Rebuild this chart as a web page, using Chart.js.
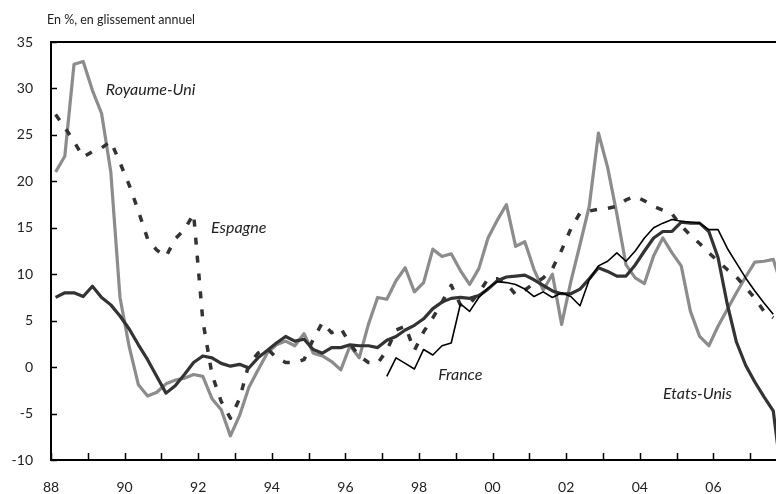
<!DOCTYPE html>
<html>
<head>
<meta charset="utf-8">
<script src="https://cdn.jsdelivr.net/npm/chart.js@4.4.1/dist/chart.umd.min.js"></script>
<style>
  html, body { margin: 0; padding: 0; background: #fff; }
  #wrap { width: 776px; height: 494px; overflow: hidden; }
</style>
</head>
<body>
<div id="wrap"><canvas id="chart" width="776" height="494"></canvas></div>
<script>
// quarterly data, 1988T1 .. 2007T4, in % (glissement annuel)
const firstYear = 1988;
const yearTicks = [1988, 1989, 1990, 1991, 1992, 1993, 1994, 1995, 1996, 1997,
                   1998, 1999, 2000, 2001, 2002, 2003, 2004, 2005, 2006, 2007];
const yTicks = [-10, -5, 0, 5, 10, 15, 20, 25, 30, 35];

const royaumeUni = [
  21.0, 22.7, 32.6, 32.9, 29.8, 27.3, 21.0, 7.5, 2.2, -1.9,
  -3.1, -2.7, -1.8, -1.4, -1.2, -0.8, -1.0, -3.4, -4.6, -7.4,
  -5.2, -2.2, -0.3, 1.5, 2.4, 2.8, 2.3, 3.6, 1.5, 1.2,
  0.6, -0.3, 2.3, 1.0, 4.6, 7.5, 7.3, 9.3, 10.7, 8.1,
  9.1, 12.7, 11.9, 12.2, 10.4, 8.9, 10.6, 13.9, 15.8, 17.5,
  13.0, 13.5, 10.5, 8.3, 10.0, 4.6, 9.2, 13.2, 17.3, 25.2,
  21.5, 16.5, 11.0, 9.6, 9.0, 12.0, 13.9, 12.3, 10.9, 6.0,
  3.3, 2.3, 4.4, 6.2, 8.0, 9.7, 11.3, 11.4, 11.6, 8.5
];
const espagne = [
  27.2, 25.8, 24.3, 22.6, 23.2, 23.6, 24.3, 22.0, 19.6, 16.8,
  13.8, 12.6, 11.9, 13.8, 14.8, 16.5, 5.0, -0.8, -3.7, -5.5,
  -3.4, 0.3, 1.5, 2.0, 1.0, 0.5, 0.5, 0.8, 3.0, 4.8,
  3.7, 4.2, 2.5, 1.2, 0.5, 0.4, 1.8, 4.0, 4.4, 1.8,
  3.8, 5.3, 7.0, 8.8, 6.7, 6.8, 8.0, 9.5, 9.5, 9.0,
  7.8, 8.3, 9.0, 9.6, 10.6, 12.6, 14.9, 16.6, 16.8, 17.0,
  17.1, 17.3, 18.0, 18.4, 17.9, 17.3, 16.9, 16.5, 15.2, 14.2,
  13.3, 12.3, 11.4, 10.5, 9.7, 8.6, 7.4, 6.0, 5.3, null
];
const etatsUnis = [
  7.5, 8.0, 8.0, 7.6, 8.7, 7.5, 6.7, 5.5, 4.1, 2.4,
  0.8, -1.0, -2.8, -2.0, -0.8, 0.5, 1.2, 1.0, 0.4, 0.1,
  0.3, -0.1, 1.0, 1.8, 2.6, 3.3, 2.8, 3.0, 1.9, 1.5,
  2.1, 2.1, 2.4, 2.3, 2.3, 2.1, 2.9, 3.3, 4.0, 4.5,
  5.2, 6.3, 7.0, 7.4, 7.5, 7.4, 7.7, 8.4, 9.3, 9.7,
  9.8, 9.9, 9.4, 8.8, 8.2, 7.9, 7.9, 8.4, 9.5, 10.7,
  10.3, 9.8, 9.8, 11.0, 12.5, 13.9, 14.6, 14.6, 15.6, 15.5,
  15.5, 14.6, 11.8, 6.8, 2.7, 0.2, -1.6, -3.2, -4.7, -12.5
];
const france = [
  ...Array(36).fill(null),
  -1.0, 1.0, 0.4, -0.2,
  1.9, 1.3, 2.3, 2.6, 6.8, 6.0, 7.5, 8.5, 9.2, 9.1,
  8.9, 8.4, 7.6, 8.1, 7.5, 8.0, 7.6, 6.6, 9.4, 10.9,
  11.4, 12.3, 11.4, 12.5, 13.9, 15.0, 15.5, 15.9, 15.7, 15.6,
  15.5, 14.8, 14.8, 12.8, 11.2, 9.6, 8.2, 6.9, 5.7, null
];

// text labels placed in data coordinates
const seriesLabels = [
  { text: 'Royaume-Uni', x: 1989.49, y: 29.9 },
  { text: 'Espagne', x: 1992.35, y: 15.0 },
  { text: 'France', x: 1998.52, y: -0.8 },
  { text: 'Etats-Unis', x: 2004.63, y: -2.9 }
];

const toPoints = arr => arr.map((v, i) => ({ x: firstYear + (i + 0.5) / 4, y: v }));

const framePlugin = {
  id: 'frame',
  afterDraw(chart) {
    const ctx = chart.ctx;
    const a = chart.chartArea;
    const xs = chart.scales.x;
    const ys = chart.scales.y;
    ctx.save();
    ctx.strokeStyle = '#000';
    ctx.lineWidth = 2;
    ctx.beginPath();
    ctx.moveTo(a.left, a.top);
    ctx.lineTo(a.right + 2, a.top);
    ctx.stroke();
    // inward tick marks
    ctx.lineWidth = 1.5;
    ctx.beginPath();
    yearTicks.forEach(v => {
      const px = Math.round(xs.getPixelForValue(v)) + 0.5;
      ctx.moveTo(px, a.bottom);
      ctx.lineTo(px, a.bottom - 7);
    });
    yTicks.forEach(v => {
      const py = Math.round(ys.getPixelForValue(v)) + 0.5;
      ctx.moveTo(a.left, py);
      ctx.lineTo(a.left + 6, py);
    });
    ctx.stroke();
    // title
    ctx.fillStyle = '#222';
    ctx.font = '12.5px Lato';
    ctx.textBaseline = 'middle';
    ctx.textAlign = 'left';
    ctx.fillText('En %, en glissement annuel', 47, 20);
    // series names
    ctx.font = 'italic 16px Lato';
    seriesLabels.forEach(l => {
      ctx.fillText(l.text, xs.getPixelForValue(l.x), ys.getPixelForValue(l.y));
    });
    ctx.restore();
  }
};

new Chart(document.getElementById('chart'), {
  type: 'line',
  data: {
    datasets: [
      { label: 'France', data: toPoints(france), borderColor: '#000', borderWidth: 1.6 },
      { label: 'Etats-Unis', data: toPoints(etatsUnis), borderColor: '#333', borderWidth: 3.2 },
      { label: 'Espagne', data: toPoints(espagne), borderColor: '#333', borderWidth: 3.5, borderDash: [7, 11] },
      { label: 'Royaume-Uni', data: toPoints(royaumeUni), borderColor: '#8c8c8c', borderWidth: 3.2 }
    ]
  },
  options: {
    responsive: false,
    animation: false,
    layout: { padding: { top: 42, right: 0, left: 0, bottom: 0 } },
    elements: {
      point: { radius: 0 },
      line: { tension: 0, fill: false, borderJoinStyle: 'round', spanGaps: false }
    },
    plugins: { legend: { display: false }, tooltip: { enabled: false } },
    scales: {
      x: {
        type: 'linear',
        min: 1988,
        max: 2007.7,
        afterBuildTicks: s => { s.ticks = yearTicks.map(v => ({ value: v })); },
        afterFit: s => { s.height = 34; },
        grid: { display: true, drawOnChartArea: false, drawTicks: false },
        border: { display: true, color: '#000', width: 2 },
        ticks: {
          autoSkip: false,
          maxRotation: 0,
          padding: 19,
          color: '#222',
          font: { family: 'Lato', size: 14 },
          callback: v => (v % 2 === 0 ? String(v).slice(2) : '')
        }
      },
      y: {
        min: -10,
        max: 35,
        afterBuildTicks: s => { s.ticks = yTicks.map(v => ({ value: v })); },
        afterFit: s => { s.width = 51; },
        grid: { display: true, drawOnChartArea: false, drawTicks: false },
        border: { display: true, color: '#000', width: 2 },
        ticks: {
          padding: 18,
          color: '#222',
          font: { family: 'Lato', size: 14 }
        }
      }
    }
  },
  plugins: [framePlugin]
});
</script>
</body>
</html>
